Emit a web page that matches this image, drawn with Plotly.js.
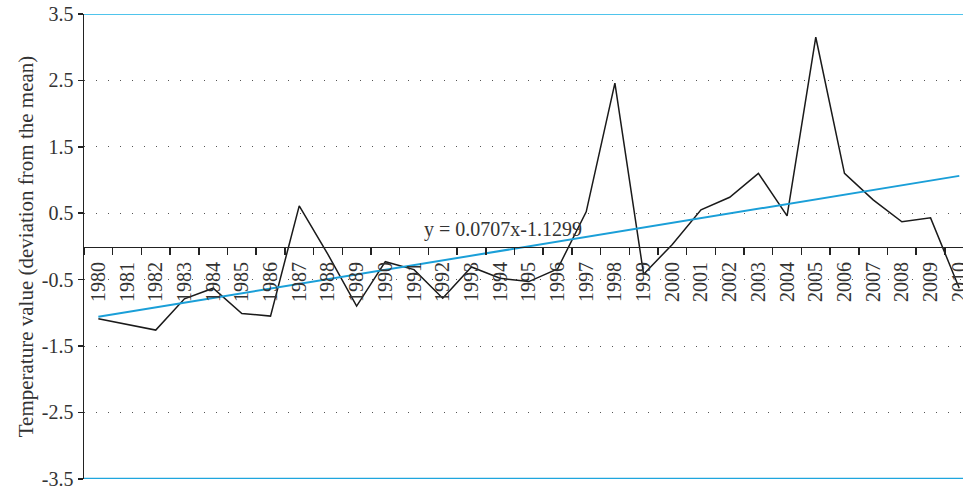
<!DOCTYPE html>
<html>
<head>
<meta charset="utf-8">
<script src="https://cdn.plot.ly/plotly-3.0.1.min.js"></script>
<style>html,body{margin:0;padding:0;background:#fff;}#chart{width:963px;height:488px;}</style>
</head>
<body>
<div id="chart"></div>
<script>
var years = ['1980','1981','1982','1983','1984','1985','1986','1987','1988','1989','1990','1991','1992','1993','1994','1995','1996','1997','1998','1999','2000','2001','2002','2003','2004','2005','2006','2007','2008','2009','2010'];
var deviations = [-1.09,-1.17,-1.26,-0.79,-0.63,-1.01,-1.05,0.61,-0.12,-0.90,-0.23,-0.35,-0.78,-0.31,-0.48,-0.53,-0.34,0.52,2.46,-0.42,0.03,0.55,0.74,1.10,0.46,3.15,1.10,0.70,0.37,0.43,-0.63];
var trendYears = ['1980','2010'];
var trendValues = [-1.059, 1.062];
var yTickVals = [3.5,2.5,1.5,0.5,-0.5,-1.5,-2.5,-3.5];
var yTickText = ['3.5','2.5','1.5','0.5','-0.5','-1.5','-2.5','-3.5'];
var equationText = 'y = 0.0707x-1.1299';

var font = 'Liberation Serif, Times New Roman, serif';

var traces = [
  {x: years, y: deviations, type: 'scatter', mode: 'lines', line: {color: '#1a1a1a', width: 1.5}},
  {x: trendYears, y: trendValues, type: 'scatter', mode: 'lines', line: {color: '#1a9fd8', width: 2}}
];

var layout = {
  width: 963, height: 488,
  margin: {l: 84, r: 0, t: 14, b: 9},
  paper_bgcolor: '#fff', plot_bgcolor: '#fff',
  showlegend: false,
  font: {family: font, size: 20, color: '#333'},
  xaxis: {
    type: 'category',
    range: [-0.5, 30.13],
    anchor: 'free', position: 0.5,
    showline: true, linecolor: '#222', linewidth: 1.5,
    ticks: 'outside', tickson: 'boundaries', ticklen: 7, tickcolor: '#222', tickwidth: 1.5,
    tickangle: -90,
    ticklabelstandoff: 6,
    ticklabeloverflow: 'allow',
    tickfont: {family: font, size: 20, color: '#333'},
    showgrid: false, zeroline: false
  },
  yaxis: {
    range: [-3.503, 3.5],
    tickvals: yTickVals, ticktext: yTickText,
    showline: true, linecolor: '#222', linewidth: 1.5,
    ticks: 'outside', ticklen: 5, tickcolor: '#222', tickwidth: 1.5,
    ticklabeloverflow: 'allow',
    tickfont: {family: font, size: 20, color: '#333'},
    showgrid: true, gridcolor: '#555', gridwidth: 1, griddash: '1px,11px',
    zeroline: false,
    title: {text: 'Temperature value (deviation from the mean)', font: {family: font, size: 21, color: '#333'}, standoff: 2}
  },
  shapes: [
    {type: 'line', xref: 'paper', yref: 'y', x0: 0, x1: 1, y0: 3.5, y1: 3.5, line: {color: '#4fc4ec', width: 2}},
    {type: 'line', xref: 'paper', yref: 'y', x0: 0, x1: 1, y0: -3.5, y1: -3.5, line: {color: '#1fa6de', width: 2}}
  ],
  annotations: [
    {x: 14.1, y: 0.25, xref: 'x', yref: 'y', text: equationText, showarrow: false, font: {family: font, size: 20, color: '#333'}}
  ]
};

Plotly.newPlot('chart', traces, layout, {staticPlot: true});
</script>
</body>
</html>
